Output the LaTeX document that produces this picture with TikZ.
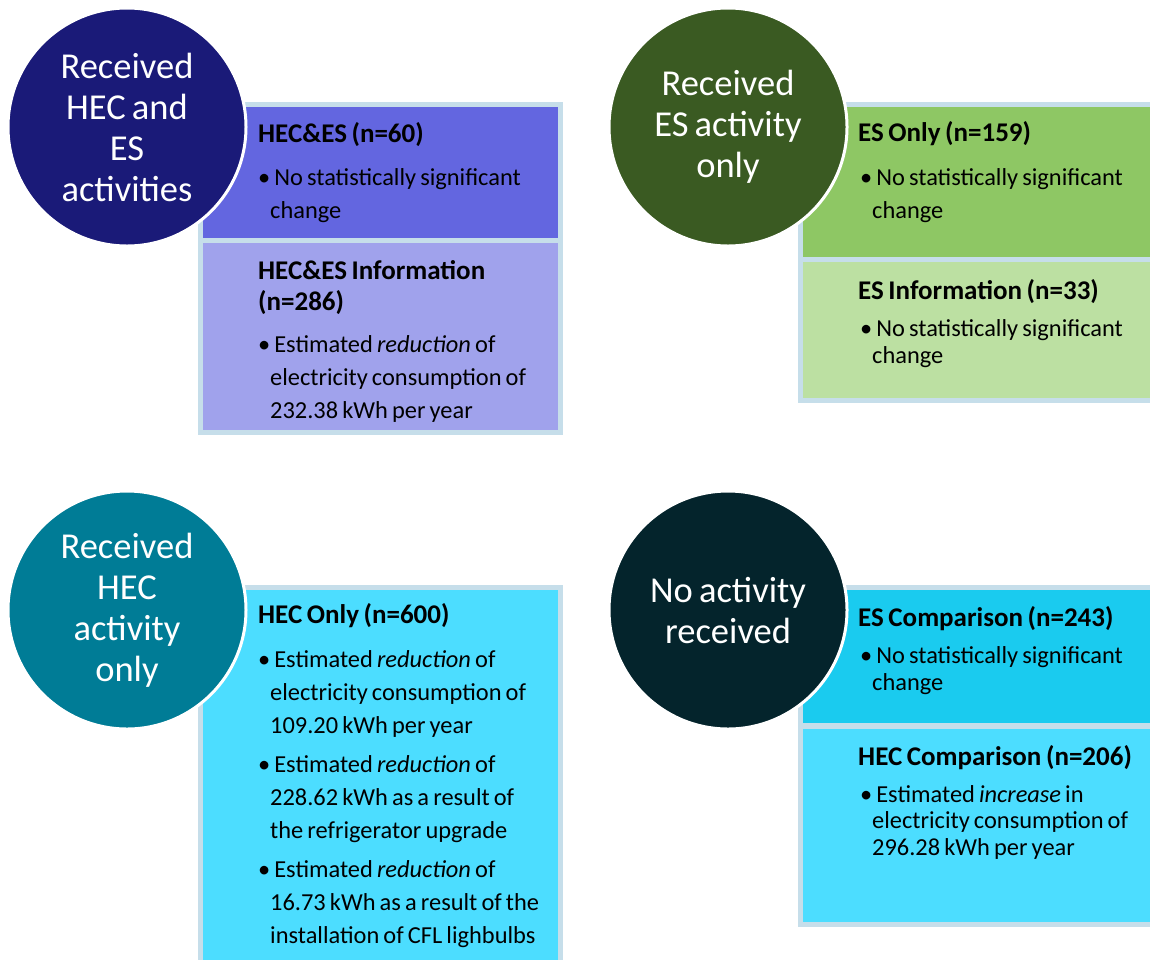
\documentclass[tikz,border=0pt]{standalone}
\usepackage{fontspec}
\setmainfont{Carlito}[WordSpace=0.75]
\definecolor{framec}{HTML}{C6DEEA}
\definecolor{navy}{HTML}{1A1A78}
\definecolor{violetA}{HTML}{6366E0}
\definecolor{violetB}{HTML}{A0A2EC}
\definecolor{forest}{HTML}{3A5A22}
\definecolor{greenA}{HTML}{8EC764}
\definecolor{greenB}{HTML}{BCE0A2}
\definecolor{tealc}{HTML}{007C96}
\definecolor{cyanA}{HTML}{1ACBEF}
\definecolor{cyanB}{HTML}{4CDDFF}
\definecolor{darkc}{HTML}{04242C}
\tikzset{
  circ/.style={circle, minimum size=238pt, inner sep=0pt, line width=3pt, draw=white,
    text=white, align=center, font=\fontsize{36.5}{41}\selectfont},
  head/.style={anchor=base west, inner sep=0pt, align=left,
    font=\bfseries\fontsize{27}{31}\selectfont},
  bodyA/.style={anchor=base west, inner sep=0pt, align=left,
    font=\fontsize{24.4}{33}\selectfont},
  bodyB/.style={anchor=base west, inner sep=0pt, align=left,
    font=\fontsize{24.4}{26.5}\selectfont},
}
\newcommand{\bul}{\textbullet\hspace{4pt}}
\newcommand{\ind}{\hspace*{12pt}}
\begin{document}
\begin{tikzpicture}[x=1pt,y=-1pt]
\useasboundingbox (0,0) rectangle (1150,959);
% ---------- top left ----------
\fill[framec] (198,102) rectangle (563,435);
\fill[violetA] (203,107) rectangle (558,238);
\fill[violetB] (203,243) rectangle (558,430);
\node[head] (tlh1) at (258,142) {HEC\&ES (n=60)};
\node[bodyA] (tlb1) at (258,218) {\bul No statistically significant\\\ind change};
\node[head] (tlh2) at (258,310) {HEC\&ES Information\\(n=286)};
\node[bodyA] (tlb2) at (258,418) {\bul Estimated \textit{reduction} of\\\ind electricity consumption of\\\ind 232.38 kWh per year};
\node[circ, fill=navy] (c1) at (127,127) {Received\\HEC and\\ES\\activities};
% ---------- top right ----------
\fill[framec] (798,102) rectangle (1150,403);
\fill[greenA] (803,107) rectangle (1150,257);
\fill[greenB] (803,262) rectangle (1150,398);
\node[head] (trh1) at (858,141) {ES Only (n=159)};
\node[bodyA] (trb1) at (860,218) {\bul No statistically significant\\\ind change};
\node[head] (trh2) at (858,299) {ES Information (n=33)};
\node[bodyB] (trb2) at (860,363) {\bul No statistically significant\\\ind change};
\node[circ, fill=forest] (c2) at (728,127) {Received\\ES activity\\only};
% ---------- bottom left ----------
\fill[framec] (198,585) rectangle (563,970);
\fill[cyanB] (203,590) rectangle (558,970);
\node[head] (blh1) at (258,623) {HEC Only (n=600)};
\node[bodyA] (blb1) at (258,733) {\bul Estimated \textit{reduction} of\\\ind electricity consumption of\\\ind 109.20 kWh per year};
\node[bodyA] (blb2) at (258,838) {\bul Estimated \textit{reduction} of\\\ind 228.62 kWh as a result of\\\ind the refrigerator upgrade};
\node[bodyA] (blb3) at (258,943) {\bul Estimated \textit{reduction} of\\\ind 16.73 kWh as a result of the\\\ind installation of CFL lighbulbs};
\node[circ, fill=tealc] (c3) at (127,610) {Received\\HEC\\activity\\only};
% ---------- bottom right ----------
\fill[framec] (798,585) rectangle (1150,927);
\fill[cyanA] (803,590) rectangle (1150,723);
\fill[cyanB] (803,729) rectangle (1150,922);
\node[head] (brh1) at (858,626) {ES Comparison (n=243)};
\node[bodyB] (brb1) at (860,690) {\bul No statistically significant\\\ind change};
\node[head] (brh2) at (858,765) {HEC Comparison (n=206)};
\node[bodyB] (brb2) at (860,855) {\bul Estimated \textit{increase} in\\\ind electricity consumption of\\\ind 296.28 kWh per year};
\node[circ, fill=darkc] (c4) at (728,610) {No activity\\received};
\end{tikzpicture}
\end{document}
